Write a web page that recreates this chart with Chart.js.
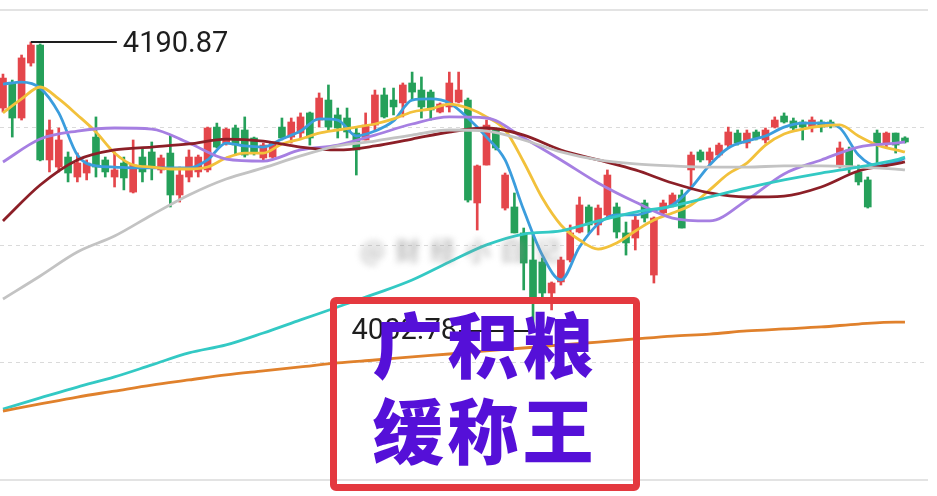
<!DOCTYPE html>
<html>
<head>
<meta charset="utf-8">
<script src="https://cdn.jsdelivr.net/npm/chart.js@4.4.1/dist/chart.umd.min.js"></script>
<style>
  html, body { margin:0; padding:0; background:#fff; }
  #wrap { position:relative; width:937px; height:496px; overflow:hidden; }
  #kline { display:block; }
  .mark { position:absolute; left:360px; top:231px; font:bold 25px "Noto Sans CJK SC"; color:#8f8f8f; filter:blur(3px); letter-spacing:10px; opacity:.55; }
  .box { position:absolute; left:330px; top:297px; width:296px; height:180px; border:7px solid #e4393f; border-radius:6px; }
  .slogan { position:absolute; left:330px; width:310px; text-align:center; font:900 71px "Noto Sans CJK SC"; color:#5510d8; letter-spacing:4px; line-height:1; }
</style>
</head>
<body>
<div id="wrap">
  <canvas id="kline" width="937" height="496"></canvas>
  <div class="mark">@财经小白记</div>
  <div class="box"></div>
  <div class="slogan" style="top:306px">广积粮</div>
  <div class="slogan" style="top:392px">缓称王</div>
</div>
<script>
window.onload = main;

// daily candles, oldest first
const open = [4147.9, 4164.2, 4141.4, 4177.2, 4188.9, 4114.1, 4109.5, 4116.0, 4103.0, 4105.6,
  4129.0, 4114.1, 4103.0, 4112.1, 4093.2, 4116.0, 4119.3, 4107.6, 4118.6, 4091.3,
  4103.0, 4106.3, 4107.6, 4135.5, 4125.1, 4134.9, 4133.6, 4128.4, 4115.4, 4116.0,
  4135.5, 4129.0, 4131.6, 4144.7, 4140.1, 4153.1, 4143.4, 4141.4, 4131.6, 4127.1,
  4136.8, 4156.4, 4153.1, 4151.2, 4164.2, 4159.6, 4158.3, 4145.3, 4148.6, 4151.8,
  4153.1, 4086.1, 4110.8, 4133.6, 4082.8, 4083.5, 4066.6, 4049.0, 4047.7, 4027.5,
  4034.7, 4049.0, 4067.2, 4083.5, 4071.8, 4078.3, 4083.5, 4066.6, 4063.3, 4086.1,
  4039.2, 4079.6, 4084.8, 4091.3, 4107.6, 4119.3, 4114.1, 4117.3, 4123.8, 4131.6,
  4125.1, 4132.3, 4127.1, 4135.5, 4142.7, 4139.5, 4138.8, 4135.5, 4138.8, 4138.8,
  4110.8, 4120.6, 4106.3, 4101.1, 4131.6, 4125.1, 4131.6, 4128.4];
const close = [4167.4, 4141.4, 4180.5, 4188.9, 4114.1, 4133.6, 4127.1, 4105.6, 4112.1, 4112.1,
  4109.5, 4106.3, 4107.6, 4102.4, 4110.8, 4106.3, 4109.5, 4115.4, 4091.3, 4104.3,
  4116.0, 4116.0, 4134.9, 4122.5, 4134.2, 4123.8, 4117.3, 4119.3, 4123.8, 4125.1,
  4128.4, 4138.8, 4142.1, 4128.4, 4154.4, 4135.5, 4134.9, 4132.3, 4120.6, 4136.8,
  4156.4, 4142.1, 4148.6, 4162.9, 4158.3, 4148.6, 4146.6, 4150.5, 4164.2, 4159.6,
  4088.0, 4110.2, 4136.8, 4121.9, 4104.3, 4066.6, 4047.0, 4024.3, 4027.5, 4034.0,
  4049.0, 4066.6, 4084.8, 4071.8, 4082.8, 4104.3, 4067.2, 4060.1, 4075.0, 4076.3,
  4076.3, 4086.1, 4091.3, 4069.8, 4117.3, 4114.1, 4119.3, 4123.8, 4132.3, 4125.1,
  4131.6, 4128.4, 4133.6, 4140.1, 4138.8, 4134.9, 4135.5, 4140.1, 4135.5, 4136.2,
  4121.9, 4109.5, 4099.8, 4083.5, 4125.1, 4131.6, 4123.8, 4125.8];
const high = [4170.0, 4166.1, 4182.4, 4190.87, 4189.6, 4140.1, 4134.9, 4119.3, 4118.6, 4114.1,
  4142.1, 4116.0, 4119.3, 4116.0, 4127.1, 4121.9, 4125.8, 4117.3, 4130.3, 4109.5,
  4120.6, 4117.3, 4135.5, 4138.1, 4134.9, 4136.8, 4142.1, 4129.0, 4125.1, 4125.8,
  4141.4, 4141.4, 4144.7, 4145.3, 4157.7, 4162.9, 4147.9, 4147.9, 4134.9, 4144.7,
  4159.6, 4160.9, 4160.9, 4164.2, 4171.3, 4168.1, 4159.6, 4151.2, 4171.3, 4171.3,
  4154.4, 4110.8, 4140.1, 4134.9, 4105.6, 4092.6, 4069.8, 4066.6, 4050.3, 4034.7,
  4050.9, 4071.8, 4090.0, 4084.8, 4084.8, 4107.6, 4086.1, 4073.7, 4078.3, 4088.0,
  4077.0, 4088.0, 4092.6, 4094.6, 4119.3, 4120.6, 4121.9, 4125.1, 4135.5, 4133.6,
  4133.6, 4133.6, 4134.9, 4142.1, 4144.7, 4141.4, 4140.1, 4142.1, 4140.1, 4140.1,
  4125.8, 4122.5, 4110.8, 4103.0, 4133.6, 4132.3, 4131.6, 4129.2];
const low = [4145.3, 4129.0, 4140.1, 4175.2, 4113.5, 4106.3, 4106.3, 4099.8, 4099.8, 4101.1,
  4103.0, 4103.0, 4096.5, 4094.6, 4092.6, 4099.8, 4101.1, 4105.6, 4083.5, 4086.7,
  4099.8, 4103.0, 4106.3, 4121.9, 4123.8, 4117.3, 4116.0, 4117.3, 4114.1, 4115.4,
  4127.1, 4125.1, 4128.4, 4123.8, 4135.5, 4133.6, 4128.4, 4128.4, 4104.3, 4127.1,
  4133.6, 4141.4, 4143.4, 4142.1, 4153.1, 4141.4, 4140.1, 4144.7, 4145.3, 4151.2,
  4086.7, 4068.5, 4110.8, 4120.6, 4081.5, 4066.6, 4029.5, 4002.78, 4023.0, 4016.5,
  4032.7, 4047.7, 4066.6, 4066.6, 4065.3, 4077.0, 4063.3, 4052.2, 4055.5, 4073.7,
  4034.0, 4078.3, 4083.5, 4069.8, 4094.6, 4112.8, 4110.8, 4116.0, 4121.9, 4123.8,
  4121.9, 4127.1, 4125.1, 4134.9, 4138.1, 4133.6, 4127.1, 4132.3, 4132.3, 4134.9,
  4108.9, 4105.6, 4097.8, 4082.8, 4110.8, 4122.5, 4118.6, 4125.1];

const fastIdx = [0, 2, 4, 6, 8, 10, 12, 14, 16, 18, 20, 22, 24, 26, 28, 30, 32, 34, 36, 38,
  40, 42, 44, 46, 48, 50, 52, 54, 56, 58, 60, 62, 64, 66, 68, 70, 72, 74, 76, 78,
  80, 82, 84, 86, 88, 90, 92, 94, 96, 97];
const slowIdx = [0, 4, 8, 12, 16, 20, 24, 28, 32, 36, 40, 44, 48, 52, 56, 60, 64, 68, 72, 76,
  80, 84, 88, 92, 96, 97];

const ma5 = [4163.5, 4164.8, 4160.9, 4144.7, 4117.3, 4110.2, 4109.5, 4108.9, 4108.9, 4108.9,
  4108.9, 4114.1, 4125.1, 4123.2, 4122.5, 4127.7, 4132.9, 4140.8, 4140.1, 4129.7,
  4132.9, 4139.5, 4153.1, 4153.8, 4151.2, 4141.4, 4129.0, 4114.1, 4081.5, 4052.2,
  4036.0, 4057.5, 4072.4, 4078.3, 4078.3, 4081.5, 4084.8, 4095.9, 4110.8, 4121.9,
  4126.4, 4129.7, 4135.5, 4138.1, 4138.1, 4134.9, 4117.3, 4110.2, 4112.8, 4115.4];
const ma10 = [4144.7, 4153.8, 4161.6, 4153.8, 4143.4, 4132.3, 4118.6, 4110.8, 4109.5, 4108.2,
  4108.2, 4109.5, 4115.4, 4118.6, 4118.6, 4124.5, 4127.7, 4131.6, 4133.6, 4135.5,
  4137.5, 4140.8, 4145.3, 4147.3, 4150.5, 4147.9, 4142.1, 4133.6, 4112.8, 4089.3,
  4071.8, 4062.0, 4056.1, 4060.1, 4067.9, 4075.0, 4079.6, 4084.8, 4094.6, 4105.0,
  4112.1, 4123.8, 4131.0, 4134.2, 4136.2, 4136.9, 4129.7, 4123.8, 4120.6, 4119.3];
const ma20 = [4112.8, 4127.7, 4132.9, 4134.9, 4134.2, 4125.1, 4114.7, 4113.4, 4120.6, 4123.8,
  4130.3, 4137.5, 4142.1, 4141.4, 4128.4, 4114.1, 4099.1, 4086.7, 4076.3, 4074.4,
  4088.0, 4105.0, 4114.1, 4122.5, 4125.1, 4125.8];
const ma30 = [4074.4, 4097.8, 4114.1, 4120.6, 4122.5, 4124.5, 4127.7, 4126.4, 4122.5, 4120.6,
  4123.2, 4127.7, 4132.3, 4134.9, 4130.3, 4120.6, 4114.1, 4107.6, 4099.1, 4092.6,
  4090.0, 4090.6, 4096.5, 4106.9, 4111.5, 4112.8];
const ma60 = [4023.6, 4038.6, 4054.2, 4064.6, 4078.3, 4091.3, 4101.7, 4108.9, 4116.7, 4123.2,
  4126.4, 4130.3, 4133.6, 4132.9, 4127.1, 4119.3, 4114.1, 4111.5, 4110.2, 4109.5,
  4109.5, 4110.2, 4110.2, 4109.5, 4108.2, 4107.6];
const ma120 = [3952.0, 3959.2, 3966.3, 3972.9, 3980.7, 3988.5, 3993.7, 4001.5, 4010.0, 4018.4,
  4026.9, 4036.0, 4047.7, 4058.8, 4065.9, 4067.9, 4074.4, 4080.2, 4084.1, 4090.0,
  4095.9, 4101.1, 4105.6, 4109.5, 4114.1, 4116.0];
const ma250 = [3950.7, 3955.3, 3959.8, 3963.7, 3967.6, 3970.9, 3974.2, 3976.8, 3979.4, 3982.0,
  3983.9, 3985.9, 3987.8, 3989.8, 3991.7, 3993.7, 3995.6, 3997.6, 3999.5, 4000.8,
  4002.8, 4004.1, 4005.4, 4007.3, 4008.6, 4008.6];

const UP = '#e4464b';
const DOWN = '#25a05a';

function main(){
    drawKline();
}

function pts(idx, vals){
    return idx.map((i, k) => ({x: i, y: vals[k]}));
}

function maLine(idx, vals, color){
    return {
      type: 'line',
      data: pts(idx, vals),
      borderColor: color,
      borderWidth: 2.8,
      pointRadius: 0,
      cubicInterpolationMode: 'monotone',
      fill: false,
      order: 1
    };
}

// max / min markers like the trading app shows
const extremeLabels = {
  id: 'extremeLabels',
  afterDatasetsDraw(chart){
    const {ctx, scales: {x, y}} = chart;
    const hiIdx = high.indexOf(Math.max(...high));
    const loIdx = low.indexOf(Math.min(...low));
    ctx.save();
    ctx.strokeStyle = '#1e1e1e';
    ctx.fillStyle = '#1e1e1e';
    ctx.lineWidth = 2;
    ctx.font = '29px Roboto';
    ctx.textBaseline = 'middle';

    let px = x.getPixelForValue(hiIdx);
    let py = y.getPixelForValue(high[hiIdx]);
    ctx.beginPath(); ctx.moveTo(px, py); ctx.lineTo(px + 86, py); ctx.stroke();
    ctx.textAlign = 'left';
    ctx.fillText(high[hiIdx].toFixed(2), px + 92, py + 3);

    px = x.getPixelForValue(loIdx);
    py = y.getPixelForValue(low[loIdx]);
    ctx.beginPath(); ctx.moveTo(px - 74, py); ctx.lineTo(px, py); ctx.stroke();
    ctx.textAlign = 'right';
    ctx.fillText(low[loIdx].toFixed(2), px - 76, py + 1);
    ctx.restore();
  }
};

function drawKline(){
    const colors = close.map((c, i) => c >= open[i] ? UP : DOWN);
    const bodies = open.map((o, i) => ({x: i, y: [o, close[i]]}));
    const wicks = low.map((l, i) => ({x: i, y: [l, high[i]]}));

    const ctx = document.getElementById('kline').getContext('2d');
    new Chart(ctx, {
      data: {
        datasets: [
          maLine(slowIdx, ma250, '#e0812c'),
          maLine(slowIdx, ma120, '#33c9c4'),
          maLine(slowIdx, ma60, '#c3c3c3'),
          maLine(slowIdx, ma30, '#8c1f27'),
          maLine(slowIdx, ma20, '#a67fe2'),
          maLine(fastIdx, ma10, '#f2c13b'),
          maLine(fastIdx, ma5, '#3b9ddd'),
          {
            type: 'bar', data: bodies, backgroundColor: colors,
            barThickness: 7, grouped: false, minBarLength: 1, order: 2
          },
          {
            type: 'bar', data: wicks, backgroundColor: colors,
            barThickness: 2, grouped: false, order: 3
          }
        ]
      },
      options: {
        responsive: false,
        animation: false,
        layout: { padding: {left: 0, right: 10, top: 10, bottom: 16} },
        plugins: { legend: {display: false}, tooltip: {enabled: false} },
        scales: {
          x: {
            type: 'linear', min: -0.32, max: 99.37, offset: false,
            ticks: {display: false},
            grid: {display: false, drawTicks: false},
            border: {color: '#e3e3e3', width: 2}
          },
          xTop: {
            type: 'linear', position: 'top', min: 0, max: 1,
            ticks: {display: false},
            grid: {display: false, drawTicks: false},
            border: {color: '#e3e3e3', width: 2}
          },
          y: {
            min: 3905.8, max: 4211.7,
            ticks: {display: false},
            grid: {color: '#dadada', drawTicks: false, lineWidth: 1},
            border: {display: false, dash: [4, 4]},
            afterBuildTicks: function(axis){
              const step = (axis.max - axis.min) / 4;
              axis.ticks = [0, 1, 2, 3, 4].map(k => ({value: axis.min + k * step}));
            }
          }
        }
      },
      plugins: [extremeLabels]
    });
}
</script>
</body>
</html>
